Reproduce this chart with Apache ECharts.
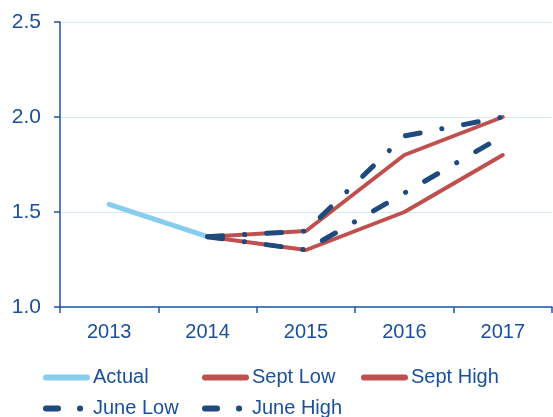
<!DOCTYPE html>
<html>
<head>
<meta charset="utf-8">
<script src="https://cdn.jsdelivr.net/npm/echarts@6/dist/echarts.min.js"></script>
<style>
  html, body { margin: 0; padding: 0; background: #fff; }
  #chart { width: 553px; height: 417px; }
</style>
</head>
<body>
<div id="chart"></div>
<script>
var years = ['2013', '2014', '2015', '2016', '2017'];
var actual = [1.54, 1.37, null, null, null];
var septLow = [null, 1.37, 1.30, 1.50, 1.80];
var septHigh = [null, 1.37, 1.40, 1.80, 2.00];
var juneLow = [null, 1.37, 1.30, 1.60, 1.90];
var juneHigh = [null, 1.37, 1.40, 1.90, 2.00];
var legendNames = ['Actual', 'Sept Low', 'Sept High', 'June Low', 'June High'];

var textColor = '#1A4F9E';
var axisColor = '#1F56A5';
var font = 'Liberation Sans, Arial, sans-serif';
var dashDot = [15, 22, 0.1, 22];
var iconDashDot = [12, 22, 0.1, 22];

function lineSeries(name, data, color, width, type) {
    return {
        name: name,
        type: 'line',
        data: data,
        symbol: 'none',
        connectNulls: false,
        lineStyle: { color: color, width: width, type: type, cap: 'round' },
        itemStyle: { color: color }
    };
}

var chart = echarts.init(document.getElementById('chart'));
chart.setOption({
    animation: false,
    grid: { left: 60, right: 1, top: 22, bottom: 110 },
    legend: {
        left: 43,
        top: 362,
        width: 490,
        itemWidth: 41,
        itemHeight: 8,
        itemGap: 0,
        padding: 0,
        itemStyle: { opacity: 0 },
        lineStyle: { width: 6, cap: 'round' },
        textStyle: {
            color: textColor, fontSize: 20, fontFamily: font,
            width: 109, overflow: 'truncate', lineHeight: 31, padding: [0, 0, 0, 1]
        },
        data: legendNames.map(function (n) {
            return n.indexOf('June') === 0
                ? { name: n, lineStyle: { type: iconDashDot, width: 6, cap: 'round' } }
                : { name: n };
        })
    },
    xAxis: {
        type: 'category',
        data: years,
        boundaryGap: true,
        axisLine: { lineStyle: { color: axisColor, width: 1.5 } },
        axisTick: { show: true, length: 6, lineStyle: { color: axisColor, width: 1.5 } },
        axisLabel: { color: textColor, fontSize: 20, margin: 15, fontFamily: font },
        splitLine: { show: false }
    },
    yAxis: {
        type: 'value',
        min: 1,
        max: 2.5,
        interval: 0.5,
        axisLine: { show: true, lineStyle: { color: axisColor, width: 1.5 } },
        axisTick: { show: true, length: 6, lineStyle: { color: axisColor, width: 1.5 } },
        axisLabel: {
            color: textColor, fontSize: 21, margin: 19, fontFamily: font,
            formatter: function (v) { return v.toFixed(1); }
        },
        splitLine: { show: true, lineStyle: { color: '#D3ECF8', width: 1 } }
    },
    series: [
        lineSeries('Actual', actual, '#87CEEE', 5, 'solid'),
        lineSeries('Sept Low', septLow, '#C0504D', 4, 'solid'),
        lineSeries('Sept High', septHigh, '#C0504D', 4, 'solid'),
        lineSeries('June Low', juneLow, '#1F4A7E', 5, dashDot),
        lineSeries('June High', juneHigh, '#1F4A7E', 5, dashDot)
    ]
});
</script>
</body>
</html>
